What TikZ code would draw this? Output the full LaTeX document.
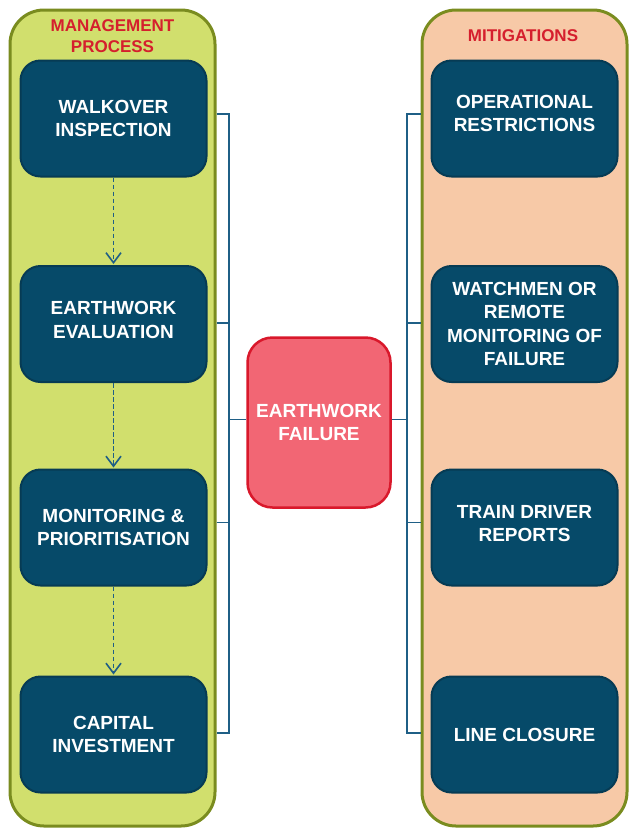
\documentclass[tikz,border=0pt]{standalone}
\usepackage{fontspec}
\setmainfont{Liberation Sans}
\usetikzlibrary{arrows.meta}

\definecolor{panelgreen}{HTML}{D1DF6D}
\definecolor{panelpeach}{HTML}{F7C9A7}
\definecolor{panelline}{HTML}{7A8C1F}
\definecolor{boxfill}{HTML}{064A69}
\definecolor{boxline}{HTML}{063B54}
\definecolor{failfill}{HTML}{F26674}
\definecolor{failline}{HTML}{D9182B}
\definecolor{titlered}{HTML}{D51F2D}
\definecolor{linkblue}{HTML}{1F5F86}

\begin{document}
\begin{tikzpicture}[x=1pt,y=-1pt,
  panel/.style={draw=panelline, line width=3pt, rounded corners=34pt,
    minimum width=205pt, minimum height=816pt, inner sep=0pt},
  paneltitle/.style={text=titlered, font=\fontsize{17}{21}\selectfont\bfseries,
    align=center, inner sep=0pt},
  stepbox/.style={draw=boxline, fill=boxfill, line width=2pt, rounded corners=20pt,
    minimum width=186pt, minimum height=116pt, inner sep=0pt,
    text=white, font=\fontsize{19}{23.4}\selectfont\bfseries, align=center},
  failbox/.style={draw=failline, fill=failfill, line width=2.5pt, rounded corners=25pt,
    minimum width=143pt, minimum height=170pt, inner sep=0pt,
    text=white, font=\fontsize{19}{23.4}\selectfont\bfseries, align=center},
  raised/.style={text depth=#1},
  link/.style={draw=linkblue, line width=1.6pt},
  flow/.style={draw=linkblue, line width=1.8pt, dash pattern=on 4.5pt off 2.5pt,
    -{Straight Barb[length=10pt,width=15pt,line width=1.6pt]}}
]
\useasboundingbox (0,0) rectangle (629,831);

% two side panels
\node[panel, fill=panelgreen] (lp) at (112.5,418) {};
\node[panel, fill=panelpeach] (rp) at (524.5,418) {};
\node[paneltitle] (lt) at (112.5,36) {MANAGEMENT\\PROCESS};
\node[paneltitle] (rt) at (523,35.5) {MITIGATIONS};

% management process steps
\node[stepbox] (b1) at (113.5,118.5) {WALKOVER\\INSPECTION};
\node[stepbox, raised=8pt] (b2) at (113.5,324) {EARTHWORK\\EVALUATION};
\node[stepbox] (b3) at (113.5,527.5) {MONITORING \&\\PRIORITISATION};
\node[stepbox] (b4) at (113.5,734.5) {CAPITAL\\INVESTMENT};

% mitigations
\node[stepbox, raised=10pt] (m1) at (524.5,118.5) {OPERATIONAL\\RESTRICTIONS};
\node[stepbox] (m2) at (524.5,324) {WATCHMEN OR\\REMOTE\\MONITORING OF\\FAILURE};
\node[stepbox, raised=8pt] (m3) at (524.5,527.5) {TRAIN DRIVER\\REPORTS};
\node[stepbox] (m4) at (524.5,734.5) {LINE CLOSURE};

% central event
\node[failbox] (ef) at (319,422.5) {EARTHWORK\\FAILURE};

% dashed flow between process steps
\draw[flow] (b1.south) -- ([yshift=1pt]b2.north);
\draw[flow] (b2.south) -- ([yshift=1pt]b3.north);
\draw[flow] (b3.south) -- ([yshift=1pt]b4.north);

% bracket spines
\coordinate (ls) at (229,0);
\coordinate (rs) at (407,0);

% left bracket
\draw[link] ([yshift=4.5pt]lp.east |- b1) -- ([yshift=4.5pt]ls |- b1)
  -- ([yshift=1.5pt]ls |- b4) -- ([yshift=1.5pt]lp.east |- b4);
\draw[link] ([yshift=1pt]lp.east |- b2) -- ([yshift=1pt]ls |- b2);
\draw[link] ([yshift=5pt]lp.east |- b3) -- ([yshift=5pt]ls |- b3);
\draw[link] ([yshift=3pt]ls |- ef) -- ([yshift=3pt]ef.west);

% right bracket
\draw[link] ([yshift=4.5pt]rp.west |- m1) -- ([yshift=4.5pt]rs |- m1)
  -- ([yshift=1.5pt]rs |- m4) -- ([yshift=1.5pt]rp.west |- m4);
\draw[link] ([yshift=1pt]rp.west |- m2) -- ([yshift=1pt]rs |- m2);
\draw[link] ([yshift=5pt]rp.west |- m3) -- ([yshift=5pt]rs |- m3);
\draw[link] ([yshift=3pt]rs |- ef) -- ([yshift=3pt]ef.east);
\end{tikzpicture}
\end{document}
